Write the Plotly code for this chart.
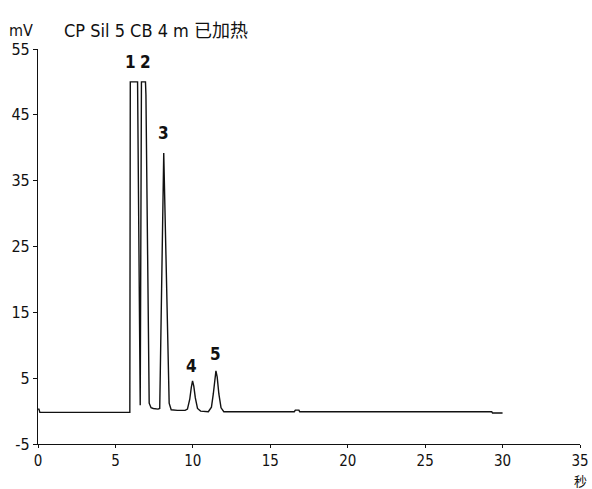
import plotly.graph_objects as go

# Chromatogram trace: retention time (s) and detector signal (mV)
time_s = [0.0, 0.06, 0.12, 5.93, 5.96, 6.43, 6.6, 6.68, 6.94, 6.97, 7.18, 7.3, 7.45,
          7.75, 7.86, 8.12, 8.47, 8.6, 9.0, 9.5, 9.65, 9.8, 9.9, 9.98, 10.06, 10.16,
          10.3, 10.5, 11.0, 11.2, 11.32, 11.42, 11.49, 11.57, 11.68, 11.82, 12.0,
          16.55, 16.62, 16.85, 16.9, 29.3, 29.35, 29.45, 30.0]
signal_mv = [0.3, 0.3, -0.2, -0.2, 50.0, 50.0, 0.9, 50.0, 50.0, 48.0, 1.2, 0.5, 0.4,
             0.3, 0.4, 39.2, 1.2, 0.2, 0.1, 0.1, 0.3, 1.8, 3.6, 4.6, 3.8, 2.0,
             0.4, 0.0, -0.1, 0.6, 2.6, 5.2, 6.1, 5.2, 2.6, 0.5, -0.1,
             -0.1, 0.15, 0.15, -0.1, -0.1, -0.3, -0.3, -0.3]

# Peak numbers and where they are written
peak_labels = ["1", "2", "3", "4", "5"]
peak_label_t = [6.0, 6.96, 8.12, 9.93, 11.49]
peak_label_mv = [53.1, 53.1, 42.3, 6.85, 8.7]

x_ticks = [0, 5, 10, 15, 20, 25, 30, 35]
y_ticks = [-5, 5, 15, 25, 35, 45, 55]

FONT = "Liberation Sans Narrow, Arial Narrow, DejaVu Sans Condensed, Noto Sans CJK SC, sans-serif"

fig = go.Figure()
fig.add_trace(go.Scatter(x=time_s, y=signal_mv, mode="lines",
                         line=dict(color="#111111", width=1.4),
                         hoverinfo="skip", showlegend=False))

for lab, t, v in zip(peak_labels, peak_label_t, peak_label_mv):
    fig.add_annotation(x=t, y=v, text=f"<b>{lab}</b>", showarrow=False,
                       font=dict(family=FONT, size=17, color="#111111"),
                       xanchor="center", yanchor="middle")

fig.add_annotation(xref="paper", yref="paper", x=-0.031, y=1.048, text="mV",
                   showarrow=False, xanchor="center", yanchor="middle",
                   font=dict(family=FONT, size=16, color="#111111"))
fig.add_annotation(xref="paper", yref="paper", x=0.044, y=1.048,
                   text="CP Sil 5 CB 4 m 已加热", showarrow=False,
                   xanchor="left", yanchor="middle",
                   font=dict(family=FONT, size=18, color="#111111"))
# time unit written under the last x tick
fig.add_annotation(xref="paper", yref="paper", x=1.0, y=-0.0924, text="秒",
                   showarrow=False, xanchor="center", yanchor="middle",
                   borderpad=0,
                   font=dict(family="Noto Sans CJK SC, sans-serif", size=13, color="#111111"))

fig.update_xaxes(range=[0, 35], tickvals=x_ticks, ticktext=[str(v) for v in x_ticks],
                 showline=True, linecolor="#111111", linewidth=1.2,
                 ticks="outside", ticklen=3, tickcolor="#111111", tickwidth=1,
                 showgrid=False, zeroline=False, automargin=False,
                 tickfont=dict(family=FONT, size=15, color="#111111"))
fig.update_yaxes(range=[-5, 55], tickvals=y_ticks, ticktext=[str(v) for v in y_ticks],
                 showline=True, linecolor="#111111", linewidth=1.2,
                 ticks="outside", ticklen=4, tickcolor="#111111", tickwidth=1,
                 showgrid=False, zeroline=False, automargin=False,
                 tickfont=dict(family=FONT, size=16, color="#111111"))

fig.update_layout(width=592, height=489,
                  margin=dict(l=38, r=12, t=49, b=45, autoexpand=False),
                  paper_bgcolor="white", plot_bgcolor="white")

fig.write_html("out.html")
